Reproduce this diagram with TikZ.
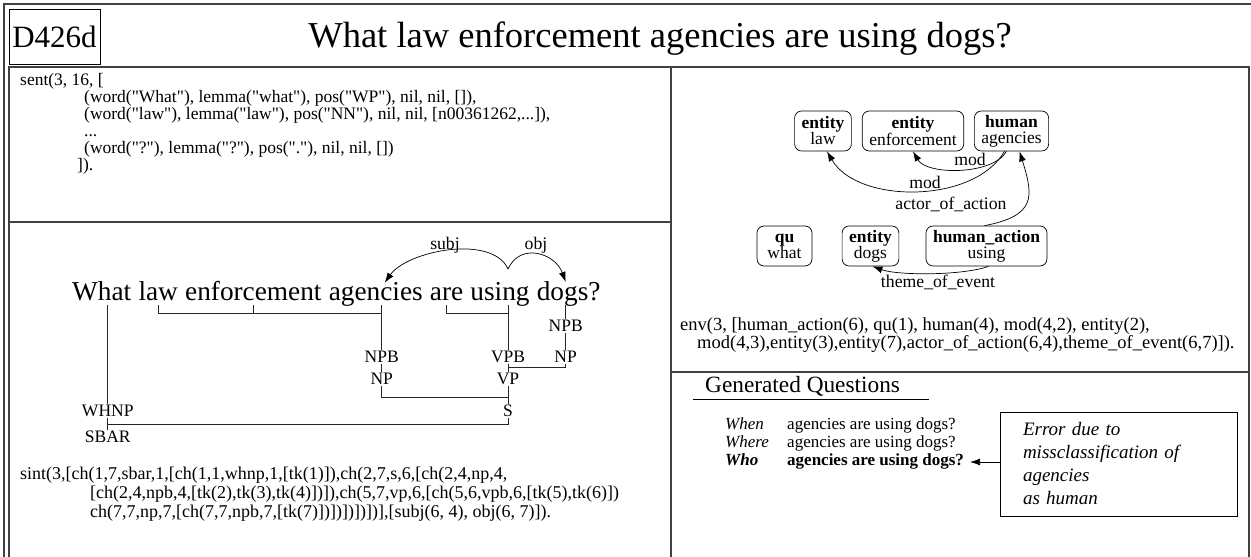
\documentclass[tikz,border=0pt]{standalone}
\usepackage{fontspec}
\setmainfont{Liberation Serif}[Ligatures=TeXOff]
\usetikzlibrary{arrows.meta, positioning, calc}

\tikzset{
  panel/.style={draw=black!75, line width=1.2pt},
  codetext/.style={anchor=north west, align=left, inner sep=0pt, font=\fontsize{17.5}{17}\selectfont},
  word/.style={inner sep=0pt, font=\fontsize{27.3}{30}\selectfont},
  cat/.style={inner sep=1pt, font=\fontsize{17.5}{18}\selectfont},
  tline/.style={draw=black!85, line width=0.8pt},
  sem/.style={draw, rounded corners=7pt, align=center, inner xsep=7pt, inner ysep=2pt,
              minimum height=40pt, font=\fontsize{17.5}{16}\selectfont, line width=0.7pt},
  rel/.style={-{Latex[length=10pt,width=7pt]}, line width=0.7pt},
  rellab/.style={inner sep=1pt, font=\fontsize{17.7}{18}\selectfont},
}

\begin{document}
\begin{tikzpicture}[x=1pt, y=1pt]
  \useasboundingbox (0,0) rectangle (1251,557);

  % Frame and panels
  \draw[panel] (4,-20) rectangle (1262,553);
  \draw[panel] (9,335) rectangle (671,490);
  \draw[panel] (9,-20) rectangle (671,335);
  \draw[panel] (671,185) rectangle (1249,490);
  \draw[panel] (671,-20) rectangle (1249,185);

  % --- Title ---
  \node[draw, line width=0.8pt, minimum width=91pt, minimum height=55pt, inner sep=0pt,
        font=\fontsize{31}{33}\selectfont] (tag) at (54.5,520.5) {D426d};
  \node[anchor=base, inner sep=0pt, font=\fontsize{36.5}{40}\selectfont] (title) at (660,509)
       {What law enforcement agencies are using dogs?};

  % --- Panel 1: sentence record ---
  \node[codetext] (sent) at (20,484) {sent(3, 16, [\\
    \hspace*{64pt}(word("What"), lemma("what"), pos("WP"), nil, nil, []),\\
    \hspace*{64pt}(word("law"), lemma("law"), pos("NN"), nil, nil, [n00361262,...]),\\
    \hspace*{64pt}...\\
    \hspace*{64pt}(word("?"), lemma("?"), pos("."), nil, nil, [])\\
    \hspace*{57pt}]).};

  % --- Panel 2: syntax tree ---
  \node[word, anchor=base west] (w1) at (72,256) {What};
  \node[word, base right=6.8pt of w1] (w2) {law};
  \node[word, base right=6.8pt of w2] (w3) {enforcement};
  \node[word, base right=6.8pt of w3] (w4) {agencies};
  \node[word, base right=6.8pt of w4] (w5) {are};
  \node[word, base right=6.8pt of w5] (w6) {using};
  \node[word, base right=6.8pt of w6] (w7) {dogs?};

  \coordinate (tw) at (0,252);
  \coordinate (tb) at (0,244);
  \coordinate (lvA) at (0,231);
  \coordinate (lvB) at (0,200);
  \coordinate (lvC) at (0,178);
  \coordinate (lvD) at (0,146);
  \coordinate (lvE) at (0,120);
  \coordinate (jvp) at (0,190);
  \coordinate (js) at (0,160);
  \coordinate (jsbar) at (0,133);
  \coordinate (cW) at ([xshift=6pt]w1.center);
  \coordinate (cA) at ([xshift=6pt]w4.center);
  \coordinate (cU) at ([xshift=8pt]w6.center);
  \coordinate (cD) at ([xshift=-3pt]w7.center);

  \node[cat] (whnp) at (cW |- lvD) {WHNP};
  \node[cat] (sbar) at (cW |- lvE) {SBAR};
  \node[cat] (npb) at (cA |- lvB) {NPB};
  \node[cat] (np) at (cA |- lvC) {NP};
  \node[cat] (vpb) at (cU |- lvB) {VPB};
  \node[cat] (vp) at (cU |- lvC) {VP};
  \node[cat] (s) at (cU |- lvD) {S};
  \node[cat] (npbd) at (cD |- lvA) {NPB};
  \node[cat] (npd) at (cD |- lvB) {NP};

  \draw[tline] (cW |- tw) -- (whnp);
  \draw[tline] (w2 |- tw) -- (w2 |- tb) -- (cA |- tb);
  \draw[tline] (w3 |- tw) -- (w3 |- tb);
  \draw[tline] (cA |- tw) -- (npb);
  \draw[tline] (npb) -- (np);
  \draw[tline] (w5 |- tw) -- (w5 |- tb) -- (cU |- tb);
  \draw[tline] (cU |- tw) -- (vpb);
  \draw[tline] (vpb) -- (vp);
  \draw[tline] (cD |- tw) -- (npbd);
  \draw[tline] (npbd) -- (npd);
  \draw[tline] (npd) -- (npd |- jvp) -- (vp |- jvp);
  \draw[tline] (np) -- (np |- js) -- (s |- js);
  \draw[tline] (vp) -- (s);
  \draw[tline] (whnp) -- (sbar);
  \draw[tline] (s) -- (s |- jsbar) -- (whnp |- jsbar);

  % dependencies
  \coordinate (dep) at ($(cU)+(0,26)$);
  \coordinate (subjend) at ([xshift=9pt]w4.north);
  \coordinate (objend) at ([xshift=-3pt]w7.north);
  \draw[rel] (dep) to[out=115, in=55, looseness=0.8] (subjend);
  \draw[rel] (dep) to[out=65, in=110, looseness=1.3] (objend);
  \node[rellab] (subj) at (445,312) {subj};
  \node[rellab] (obj) at (536,312) {obj};

  \node[codetext, font=\fontsize{18}{19}\selectfont] (sint) at (20,90)
    {sint(3,[ch(1,7,sbar,1,[ch(1,1,whnp,1,[tk(1)]),ch(2,7,s,6,[ch(2,4,np,4,\\
    \hspace*{70pt}[ch(2,4,npb,4,[tk(2),tk(3),tk(4)])]),ch(5,7,vp,6,[ch(5,6,vpb,6,[tk(5),tk(6)])\\
    \hspace*{70pt}ch(7,7,np,7,[ch(7,7,npb,7,[tk(7)])])])])])],[subj(6, 4), obj(6, 7)]).};

  % --- Panel 3: semantic graph ---
  \node[sem] (law) at (823,426) {\textbf{entity}\\law};
  \node[sem] (enf) at (913,426) {\textbf{entity}\\enforcement};
  \node[sem] (agen) at (1011.5,426) {\textbf{human}\\agencies};
  \node[sem, minimum width=55pt] (what) at (784.5,311) {\textbf{qu}\\what};
  \node[sem] (dogs) at (870.5,311) {\textbf{entity}\\dogs};
  \node[sem] (using) at (986.5,311) {\textbf{human\_action}\\using};

  \draw[rel] ([xshift=-5pt]agen.south) to[out=-120, in=-60, looseness=0.76] (enf.south);
  \draw[rel] ([xshift=-7pt]agen.south) to[out=-120, in=-60, looseness=0.88] ([xshift=4pt]law.south);
  \draw[rel] ([xshift=-2pt]using.north) .. controls +(52,10) and +(14,-45) .. ([xshift=8pt]agen.south);
  \draw[rel] ([xshift=2pt]using.south) to[out=-160, in=-20, looseness=0.6] ([xshift=2pt]dogs.south);
  \node[rellab] (mod1) at (970,398) {mod};
  \node[rellab] (mod2) at (925,375) {mod};
  \node[rellab] (actor) at (951,353) {actor\_of\_action};
  \node[rellab] (theme) at (938,275) {theme\_of\_event};

  \node[codetext, font=\fontsize{18.5}{18}\selectfont] (env) at (680,240)
    {env(3, [human\_action(6), qu(1), human(4), mod(4,2), entity(2),\\
    \hspace*{17pt}mod(4,3),entity(3),entity(7),actor\_of\_action(6,4),theme\_of\_event(6,7)]).};

  % --- Panel 4: generated questions ---
  \node[anchor=base west, inner sep=0pt, font=\fontsize{23.3}{25}\selectfont] (gq) at (705,164) {Generated Questions};
  \draw[line width=0.8pt] (693,158) -- (929,158);

  \node[anchor=base west, inner sep=0pt, font=\fontsize{17}{18}\selectfont\itshape] (qwhen) at (725,127) {When};
  \node[anchor=base west, inner sep=0pt, font=\fontsize{17}{18}\selectfont] (awhen) at (787,127) {agencies are using dogs?};
  \node[anchor=base west, inner sep=0pt, font=\fontsize{17}{18}\selectfont\itshape] (qwhere) at (725,109) {Where};
  \node[anchor=base west, inner sep=0pt, font=\fontsize{17}{18}\selectfont] (awhere) at (787,109) {agencies are using dogs?};
  \node[anchor=base west, inner sep=0pt, font=\fontsize{17}{18}\selectfont\bfseries\itshape] (qwho) at (725,91) {Who};
  \node[anchor=base west, inner sep=0pt, font=\fontsize{17}{18}\selectfont\bfseries] (awho) at (787,91) {agencies are using dogs?};

  \node[draw, line width=0.8pt, align=left, text width=191pt, inner xsep=23pt, minimum height=104pt,
        font=\fontsize{19}{23}\selectfont\itshape] (err) at (1118.5,93)
    {Error due to\\missclassification of\\agencies\\as human};
  \coordinate (who) at (970,95);
  \draw[rel] (err.west |- who) -- (who);
\end{tikzpicture}
\end{document}
